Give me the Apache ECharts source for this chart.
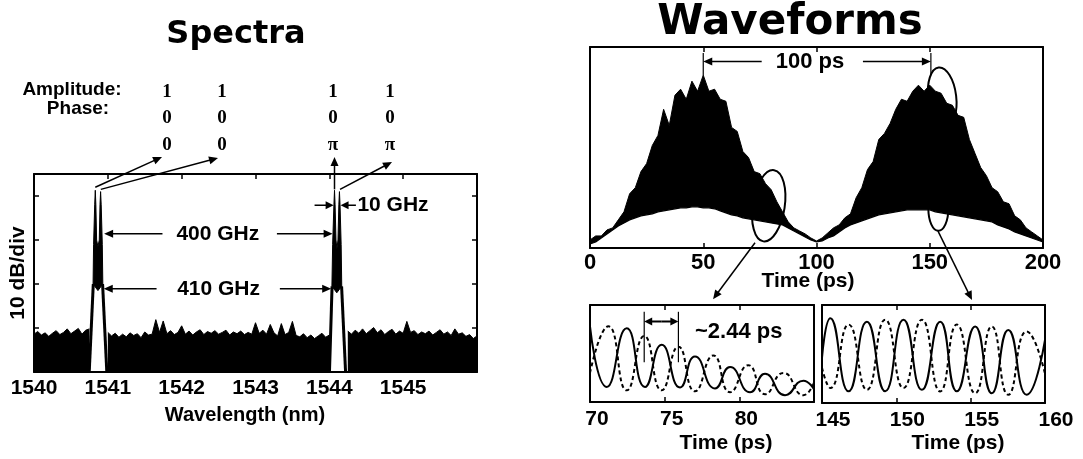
<!DOCTYPE html>
<html><head><meta charset="utf-8">
<script src="https://cdn.jsdelivr.net/npm/echarts@6/dist/echarts.min.js"></script>
<style>html,body{margin:0;padding:0;background:#fff}#c{width:1083px;height:459px}</style>
</head><body><div id="c"></div>
<script>
// ---------------- DATA ----------------
// Spectra panel
const specTicks = [1540, 1541, 1542, 1543, 1544, 1545];
const noiseStart = 1540.0, noiseStep = 0.05;   // sample grid of the noise floor (nm)
const noiseLevel = [8.6,9.2,8.4,8.9,8.1,8.8,9.4,8.5,9.0,9.8,8.7,9.3,9.9,8.6,9.5,9.8,null,null,null,null,
  9.0,8.2,8.8,7.9,8.6,8.0,8.9,8.3,8.7,7.8,9.1,8.4,8.6,11.9,9.0,11.6,8.7,9.4,8.5,9.0,
  10.5,8.6,9.3,8.4,9.1,9.6,8.5,9.2,8.8,9.4,8.6,9.0,9.5,8.4,9.1,8.7,9.3,8.5,9.0,8.6,
  11.2,8.8,9.5,8.6,10.8,8.9,8.2,11.0,8.5,9.0,11.5,8.3,8.0,8.7,7.8,8.4,7.6,8.2,8.8,7.9,
  8.4,null,null,null,null,9.3,8.6,9.5,8.8,9.8,8.7,9.4,10.1,8.9,9.6,8.5,9.2,9.7,8.6,9.3,
  8.8,11.5,9.0,9.4,8.5,9.1,8.7,9.3,8.4,9.0,9.6,8.6,9.1,8.3,9.8,8.6,8.9,8.1,8.5,7.6,8.2];
const leftPeakBody = [[1540.80,20],[1540.807,29],[1540.822,38],[1540.83,41.3],[1540.838,38],[1540.848,30],
  [1540.866,28.5],[1540.884,30],[1540.894,38],[1540.902,41],[1540.91,38],[1540.925,29],[1540.932,20],[1540.866,18.5]];
const rightPeakBody = [[1544.035,19.5],[1544.045,29],[1544.062,38],[1544.07,41.3],[1544.078,38],[1544.09,30],
  [1544.103,28],[1544.117,30],[1544.129,38],[1544.137,41],[1544.145,38],[1544.16,29],[1544.168,19.5],[1544.101,18]];
const peakSkirts = [
  [[1540.803,20],[1540.748,0]], [[1540.929,20],[1540.986,0]],
  [[1544.037,19.5],[1544.002,0]], [[1544.166,19.5],[1544.22,0]]
];
// Waveforms panel (envelope of the fast oscillation, 2.5 ps sampling)
const waveTicks = [0, 50, 100, 150, 200];
const waveStart = 0, waveStep = 2.5;
const waveUpper = [0.04,0.06,0.06,0.09,0.10,0.14,0.18,0.27,0.30,0.38,
  0.42,0.51,0.56,0.69,0.61,0.76,0.79,0.74,0.83,0.78,
  0.86,0.78,0.79,0.74,0.73,0.60,0.58,0.48,0.45,0.38,
  0.37,0.32,0.29,0.23,0.18,0.13,0.10,0.085,0.07,0.05,
  0.035,0.05,0.075,0.10,0.115,0.15,0.17,0.25,0.30,0.39,
  0.43,0.54,0.57,0.62,0.69,0.74,0.73,0.78,0.81,0.78,
  0.81,0.78,0.77,0.72,0.71,0.66,0.65,0.54,0.47,0.40,
  0.36,0.30,0.28,0.23,0.22,0.16,0.14,0.10,0.08,0.06,0.04];
const waveLower = [0.02,0.03,0.05,0.07,0.09,0.11,0.125,0.14,0.15,0.16,
  0.165,0.17,0.18,0.185,0.19,0.195,0.2,0.2,0.205,0.205,
  0.2,0.2,0.195,0.185,0.175,0.165,0.16,0.15,0.145,0.14,
  0.135,0.13,0.125,0.12,0.115,0.1,0.085,0.07,0.055,0.04,
  0.03,0.035,0.05,0.06,0.08,0.1,0.115,0.125,0.135,0.145,
  0.155,0.165,0.17,0.175,0.18,0.185,0.19,0.19,0.19,0.19,
  0.19,0.18,0.175,0.17,0.165,0.16,0.155,0.15,0.145,0.14,
  0.135,0.13,0.115,0.105,0.095,0.08,0.07,0.06,0.05,0.04,0.03];
// Zoomed waveforms (extrema of each trace)
const zoomLeftTicks = [70, 75, 80];
const zoomRightTicks = [145, 150, 155, 160];
const zoomLeftSolid = [[70,0.78],[71.12,0.155],[72.46,0.76],[73.68,0.155],[74.8,0.59],[76.03,0.15],[77.03,0.47],
  [78.37,0.14],[79.38,0.36],[80.72,0.10],[81.72,0.29],[83.06,0.07],[84.29,0.22],[85,0.13]];
const zoomLeftDashed = [[70,0.30],[71.23,0.78],[72.46,0.12],[73.63,0.68],[74.8,0.12],[75.92,0.57],[77.03,0.11],
  [78.26,0.48],[79.38,0.10],[80.6,0.38],[81.72,0.08],[82.95,0.30],[84.29,0.07],[85,0.20]];
const zoomRightSolid = [[145,0.46],[145.56,0.865],[146.79,0.12],[148.02,0.83],[149.25,0.12],[150.48,0.85],[151.72,0.135],
  [152.95,0.83],[154.07,0.12],[155.3,0.78],[156.42,0.10],[157.53,0.746],[158.77,0.084],[160,0.644]];
const zoomRightDashed = [[145,0.36],[145.56,0.153],[146.79,0.8],[148.02,0.135],[149.25,0.85],[150.48,0.153],[151.72,0.85],
  [152.95,0.118],[154.07,0.8],[155.3,0.10],[156.42,0.78],[157.53,0.084],[158.77,0.73],[160,0.30]];

// ---------------- CHART ----------------
const FONT = 'Liberation Sans';
const chart = echarts.init(document.getElementById('c'), null, {renderer: 'canvas'});
const AXL = {show: true, onZero: false, lineStyle: {color: '#000', width: 2}};
const TICK = {show: true, inside: true, length: 5, lineStyle: {color: '#000', width: 1.5}};
function lbl(ticks, margin, size, pad) {
  return {show: true, margin: margin, fontSize: size, fontWeight: 'bold', color: '#000', fontFamily: FONT,
    padding: pad || 0, formatter: v => ticks.includes(v) ? String(v) : ''};
}
function xA(g, min, max, iv, pos, label, tick) {
  return {gridIndex: g, type: 'value', min, max, interval: iv, position: pos, axisLine: AXL,
    axisTick: tick === false ? {show: false} : TICK, axisLabel: label || {show: false}, splitLine: {show: false}, z: 10};
}
function yA(g, min, max, iv, pos, tick) {
  return {gridIndex: g, type: 'value', min, max, interval: iv, position: pos, axisLine: AXL,
    axisTick: tick ? TICK : {show: false}, axisLabel: {show: false}, splitLine: {show: false}, z: 10};
}
function polySeries(k, pts) {
  return {type: 'custom', xAxisIndex: k, yAxisIndex: k, data: pts, clip: false, z: 3, silent: true,
    renderItem: (params, api) => params.dataIndex !== 0 ? null :
      {type: 'polygon', shape: {points: pts.map(p => api.coord(p))}, style: {fill: '#000', stroke: '#000', lineWidth: 1}}};
}

const noiseData = noiseLevel.map((v, i) => [+(noiseStart + i * noiseStep).toFixed(3), v === null ? '-' : v]);
const upperData = waveUpper.map((v, i) => [waveStart + i * waveStep, v]);
const lowerData = waveLower.map((v, i) => [waveStart + i * waveStep, v]);

const series = [
  {type: 'line', xAxisIndex: 0, yAxisIndex: 0, data: noiseData, symbol: 'none', connectNulls: false,
    lineStyle: {color: '#000', width: 1}, areaStyle: {color: '#000', opacity: 1}, z: 2, silent: true},
  polySeries(0, leftPeakBody),
  polySeries(0, rightPeakBody),
  ...peakSkirts.map(s => ({type: 'line', xAxisIndex: 0, yAxisIndex: 0, data: s, symbol: 'none',
    lineStyle: {color: '#000', width: 3}, z: 3, silent: true})),
  {type: 'line', xAxisIndex: 2, yAxisIndex: 2, data: upperData, symbol: 'none',
    lineStyle: {color: '#000', width: 1}, areaStyle: {color: '#000', opacity: 1}, z: 2, silent: true},
  {type: 'line', xAxisIndex: 2, yAxisIndex: 2, data: lowerData, symbol: 'none',
    lineStyle: {color: '#000', width: 1.2}, areaStyle: {color: '#fff', opacity: 1}, z: 3, silent: true},
  {type: 'line', xAxisIndex: 4, yAxisIndex: 4, data: zoomLeftSolid, symbol: 'none', smooth: 0.55,
    lineStyle: {color: '#000', width: 2}, z: 3, silent: true},
  {type: 'line', xAxisIndex: 4, yAxisIndex: 4, data: zoomLeftDashed, symbol: 'none', smooth: 0.55,
    lineStyle: {color: '#000', width: 2, type: [4, 3]}, z: 3, silent: true},
  {type: 'line', xAxisIndex: 6, yAxisIndex: 6, data: zoomRightSolid, symbol: 'none', smooth: 0.55,
    lineStyle: {color: '#000', width: 2}, z: 3, silent: true},
  {type: 'line', xAxisIndex: 6, yAxisIndex: 6, data: zoomRightDashed, symbol: 'none', smooth: 0.55,
    lineStyle: {color: '#000', width: 2, type: [4, 3]}, z: 3, silent: true}
];

chart.setOption({
  animation: false,
  backgroundColor: '#fff',
  textStyle: {fontFamily: FONT},
  grid: [
    {left: 34, top: 174, width: 443, height: 198, outerBoundsMode: 'none'},
    {left: 590, top: 47, width: 453, height: 201, outerBoundsMode: 'none'},
    {left: 590, top: 305, width: 224, height: 97, outerBoundsMode: 'none'},
    {left: 822, top: 305, width: 223, height: 98, outerBoundsMode: 'none'}
  ],
  xAxis: [
    xA(0, 1540, 1546, 1, 'bottom', lbl(specTicks, 6, 21)),
    xA(0, 1540, 1546, 1, 'top'),
    xA(1, 0, 200, 50, 'bottom', lbl(waveTicks, 4, 22)),
    xA(1, 0, 200, 50, 'top'),
    xA(2, 70, 85, 5, 'bottom', lbl(zoomLeftTicks, 7, 21, [0, 0, 0, 14])),
    xA(2, 70, 85, 5, 'top'),
    xA(3, 145, 160, 5, 'bottom', lbl(zoomRightTicks, 7, 21, [0, 0, 0, 22])),
    xA(3, 145, 160, 5, 'top')
  ],
  yAxis: [
    yA(0, 0, 45, 10, 'left', true),
    yA(0, 0, 45, 10, 'right', true),
    yA(1, 0, 1, 0.25, 'left', false),
    yA(1, 0, 1, 0.25, 'right', false),
    yA(2, 0, 1, 0.5, 'left', false),
    yA(2, 0, 1, 0.5, 'right', false),
    yA(3, 0, 1, 0.5, 'left', false),
    yA(3, 0, 1, 0.5, 'right', false)
  ],
  series: series
});

// ---------------- ANNOTATIONS ----------------
const P = (k, x, y) => chart.convertToPixel({xAxisIndex: k, yAxisIndex: k}, [x, y]);
function arrow(a, b, w, L, H) {
  w = w || 1.5; L = L || 9; H = H || 4;
  const dx = b[0] - a[0], dy = b[1] - a[1], d = Math.hypot(dx, dy), ux = dx / d, uy = dy / d;
  const bx = b[0] - ux * L, by = b[1] - uy * L;
  return [
    {type: 'line', z: 100, shape: {x1: a[0], y1: a[1], x2: bx + ux * 2, y2: by + uy * 2}, style: {stroke: '#000', lineWidth: w}},
    {type: 'polygon', z: 100, shape: {points: [[b[0], b[1]], [bx - uy * H, by + ux * H], [bx + uy * H, by - ux * H]]}, style: {fill: '#000'}}
  ];
}
function seg(a, b, w) {
  return {type: 'line', z: 100, shape: {x1: a[0], y1: a[1], x2: b[0], y2: b[1]}, style: {stroke: '#000', lineWidth: w || 1.5}};
}
function txt(s, x, y, size, o) {
  o = o || {};
  return {type: 'text', z: 100, x: x, y: y, rotation: o.rot || 0,
    style: {text: s, x: 0, y: 0, fill: '#000', font: 'bold ' + size + 'px "' + (o.family || FONT) + '"',
      align: o.align || 'center', verticalAlign: 'middle'}};
}
function ell(c, rx, ry, rot) {
  return {type: 'ellipse', z: 100, x: c[0], y: c[1], rotation: rot || 0, shape: {cx: 0, cy: 0, rx: rx, ry: ry},
    style: {fill: 'none', stroke: '#000', lineWidth: 2}};
}

const els = [];
// titles and axis names
els.push(txt('Spectra', 236, 35, 32, {family: 'DejaVu Sans'}));
els.push(txt('Waveforms', 790, 23, 42, {family: 'DejaVu Sans'}));
els.push(txt('Wavelength (nm)', 245, 415, 20));
els.push(txt('10 dB/div', 18, 273, 21, {rot: Math.PI / 2}));
els.push(txt('Time (ps)', 808, 281, 21));
els.push(txt('Time (ps)', 726, 443, 21));
els.push(txt('Time (ps)', 958, 443, 21));
// amplitude / phase table
els.push(txt('Amplitude:', 72, 90, 19));
els.push(txt('Phase:', 78, 109, 19));
const colX = [167, 222, 333, 390];
const rows = [['1', '1', '1', '1'], ['0', '0', '0', '0'], ['0', '0', '\u03c0', '\u03c0']];
const rowY = [92, 118, 145];
rows.forEach((r, ri) => r.forEach((s, ci) => els.push(txt(s, colX[ci], rowY[ri], 19, {family: 'Liberation Serif'}))));
// arrows from peaks to table
els.push(...arrow(P(0, 1540.83, 42), [162, 157]));
els.push(...arrow(P(0, 1540.905, 41.5), [218, 158]));
els.push(...arrow(P(0, 1544.07, 41.5), [P(0, 1544.07, 41.5)[0], 157]));
els.push(...arrow(P(0, 1544.145, 41.5), [392, 162]));
// spacing annotations
els.push(txt('400 GHz', P(0, 1542.49, 31.4)[0], P(0, 1542.49, 31.4)[1], 21));
els.push(...arrow(P(0, 1541.74, 31.4), P(0, 1540.95, 31.4)));
els.push(...arrow(P(0, 1543.29, 31.4), P(0, 1544.045, 31.4)));
els.push(txt('410 GHz', P(0, 1542.5, 18.9)[0], P(0, 1542.5, 18.9)[1], 21));
els.push(...arrow(P(0, 1541.66, 18.9), P(0, 1540.945, 18.9)));
els.push(...arrow(P(0, 1543.33, 18.9), P(0, 1544.025, 18.9)));
els.push(txt('10 GHz', P(0, 1544.38, 37.9)[0], P(0, 1544.38, 37.9)[1], 21, {align: 'left'}));
els.push(...arrow(P(0, 1543.80, 37.9), P(0, 1544.058, 37.9), 1.5, 8, 4));
els.push(...arrow(P(0, 1544.36, 37.9), P(0, 1544.152, 37.9), 1.5, 8, 4));
// waveform annotations
els.push(txt('100 ps', P(2, 97.1, 0.928)[0], P(2, 97.1, 0.928)[1], 22));
els.push(seg(P(2, 50, 0.97), P(2, 50, 0.86), 1.2));
els.push(seg(P(2, 150.5, 0.97), P(2, 150.5, 0.86), 1.2));
els.push(...arrow(P(2, 75.8, 0.928), P(2, 50, 0.928)));
els.push(...arrow(P(2, 120.5, 0.928), P(2, 150.5, 0.928)));
els.push(ell(P(2, 78.9, 0.21), 16, 36, -0.15));
els.push(ell(P(2, 155.5, 0.75), 14, 30, 0.12));
els.push(ell(P(2, 153.8, 0.195), 10, 22, 0));
els.push(...arrow(P(2, 72.85, 0.026), P(4, 78.24, 1.06), 1.5, 9, 4));
els.push(...arrow(P(2, 153.6, 0.085), P(6, 155.09, 1.05), 1.5, 9, 4));
// 2.44 ps marker
els.push(seg(P(4, 73.63, 0.93), P(4, 73.63, 0.41), 1.2));
els.push(seg(P(4, 75.92, 0.93), P(4, 75.92, 0.41), 1.2));
(function () {
  const a = P(4, 73.63, 0.83), b = P(4, 75.92, 0.83), m = [(a[0] + b[0]) / 2, a[1]];
  els.push(...arrow(m, a, 2, 8, 4));
  els.push(...arrow(m, b, 2, 8, 4));
})();
els.push(txt('~2.44 ps', P(4, 77.03, 0.72)[0], P(4, 77.03, 0.72)[1], 22, {align: 'left'}));

chart.setOption({graphic: {elements: els}});
</script>
</body></html>
